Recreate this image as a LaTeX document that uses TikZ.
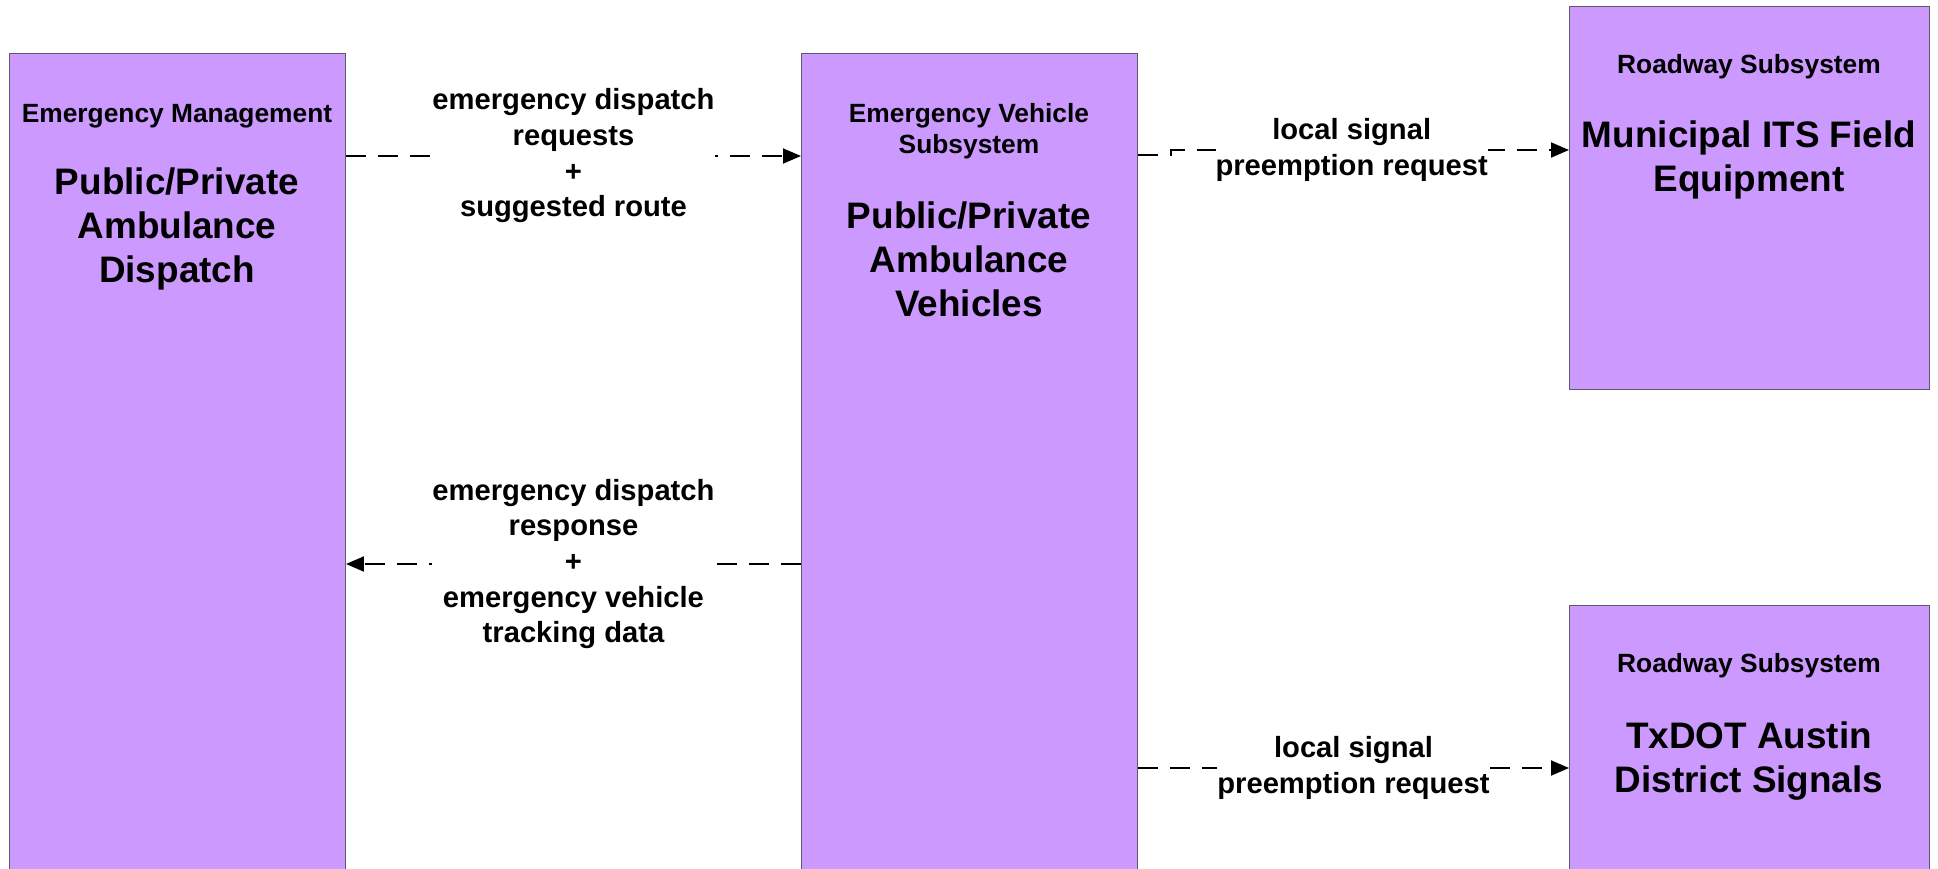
\documentclass[tikz,border=0pt]{standalone}
\usepackage{fontspec}
\setmainfont{Liberation Sans}
\usetikzlibrary{arrows.meta,positioning}
\definecolor{ITSlilac}{HTML}{CC99FF}
\definecolor{ITSedge}{HTML}{5F5A6A}

\begin{document}
\begin{tikzpicture}[x=0.02cm,y=-0.02cm,
  sysbox/.style={draw=ITSedge,line width=0.6pt,fill=ITSlilac,anchor=north west,inner sep=0},
  hdr/.style={font=\bfseries\fontsize{15}{17.5}\selectfont,align=center,anchor=base},
  ttl/.style={font=\bfseries\fontsize{21}{25}\selectfont,align=center,anchor=base},
  flow/.style={dash pattern=on 0.4cm off 0.24cm,line width=1.1pt,-{Triangle[length=0.36cm,width=0.3cm]}},
  flowlbl/.style={font=\bfseries\fontsize{16.6}{20.3}\selectfont,align=center,fill=white,inner sep=0}]
\useasboundingbox (0,0) rectangle (1938,869);
\clip (0,0) rectangle (1938,869);

% subsystems
\node[sysbox,minimum width=6.72cm,minimum height=16.94cm] (disp) at (9,53) {};
\node[sysbox,minimum width=6.72cm,minimum height=16.94cm] (veh) at (801,53) {};
\node[sysbox,minimum width=7.2cm,minimum height=7.66cm] (field) at (1569,6) {};
\node[sysbox,minimum width=7.2cm,minimum height=6cm] (sig) at (1569,605) {};

% base = last line
\node[hdr] (dispH) at (177,122) {Emergency Management};
\node[ttl] (dispT) at (177,282) {Public/Private\\Ambulance\\Dispatch};
\node[hdr] (vehH) at (969,153) {Emergency Vehicle\\Subsystem};
\node[ttl] (vehT) at (969,316) {Public/Private\\Ambulance\\Vehicles};
\node[hdr] (fieldH) at (1749,73) {Roadway Subsystem};
\node[ttl] (fieldT) at (1749,191) {Municipal ITS Field\\Equipment};
\node[hdr] (sigH) at (1749,672) {Roadway Subsystem};
\node[ttl] (sigT) at (1749,792) {TxDOT Austin\\District Signals};

% flows
\coordinate (rowA) at (0,156);
\coordinate (rowB) at (0,564);
\coordinate (rowC) at (0,155);
\coordinate (rowD) at (0,150);
\coordinate (rowE) at (0,768);

\draw[flow] (disp.east |- rowA) -- node[flowlbl] (reqL) {emergency dispatch\\requests\\+\\suggested route} (veh.west |- rowA);
\draw[flow] (veh.west |- rowB) -- node[flowlbl] (rspL) {emergency dispatch\\response\\+\\emergency vehicle\\tracking data} (disp.east |- rowB);
\draw[flow] (veh.east |- rowC) -- ++(33,0) |- node[flowlbl,pos=0.727] (preL) {local signal\\preemption request} (field.west |- rowD);
\draw[flow] (veh.east |- rowE) -- node[flowlbl] (pre2L) {local signal\\preemption request} (sig.west |- rowE);
\end{tikzpicture}
\end{document}
